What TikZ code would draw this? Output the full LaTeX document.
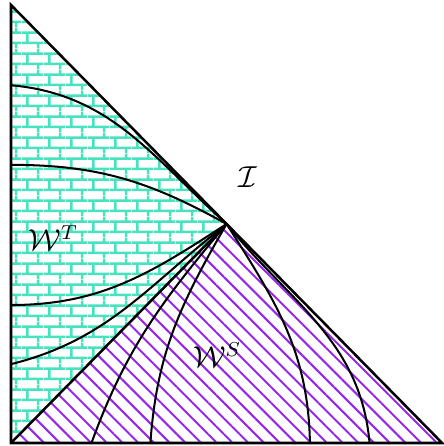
\documentclass[tikz,border=0pt]{standalone}
\usepackage{amsmath}
\usetikzlibrary{patterns.meta}

\definecolor{brickcol}{RGB}{72,226,190}
\definecolor{hatchcol}{RGB}{150,40,235}

% small bricks: rows 4.1pt high, bricks 8.6pt long
\pgfdeclarepattern{
	name=wallbricks,
	type=uncolored,
	bottom left={\pgfpoint{0pt}{0pt}},
	top right={\pgfpoint{8.6pt}{8.2pt}},
	tile size={\pgfpoint{8.6pt}{8.2pt}},
	code={
		\pgfsetlinewidth{1pt}
		\pgfpathmoveto{\pgfpoint{0pt}{2.05pt}}\pgfpathlineto{\pgfpoint{8.6pt}{2.05pt}}
		\pgfpathmoveto{\pgfpoint{0pt}{6.15pt}}\pgfpathlineto{\pgfpoint{8.6pt}{6.15pt}}
		\pgfpathmoveto{\pgfpoint{2.15pt}{2.05pt}}\pgfpathlineto{\pgfpoint{2.15pt}{6.15pt}}
		\pgfpathmoveto{\pgfpoint{6.45pt}{6.15pt}}\pgfpathlineto{\pgfpoint{6.45pt}{8.2pt}}
		\pgfpathmoveto{\pgfpoint{6.45pt}{0pt}}\pgfpathlineto{\pgfpoint{6.45pt}{2.05pt}}
		\pgfusepath{stroke}
	}
}

\begin{document}
\begin{tikzpicture}[x=1cm, y=1.016cm, edge/.style={line width=1pt}, level/.style={thick}, every node/.style={font=\large}]
	\useasboundingbox (-0.153,-0.041) rectangle (6.014,6.068);
	\coordinate (A) at (0,0);
	\coordinate (B) at (6,0);
	\coordinate (C) at (0,6);
	\coordinate (M) at (3,3);
	\fill[pattern=wallbricks, pattern color=brickcol] (A) -- (M) -- (C) -- cycle;
	\fill[pattern={Lines[angle=-45, distance=4.4pt, line width=0.8pt]}, pattern color=hatchcol] (A) -- (B) -- (M) -- cycle;
	% curves from the left side
	\foreach \n/\y/\o/\i in {1/4.9/-5/138, 2/3.81/0/151, 3/1.89/0/-147, 4/1.08/14/-142}
		{\coordinate (L\n) at (0,\y);
		\draw[level] (L\n) to[out=\o, in=\i] (M);}
	% curves from the bottom side
	\foreach \n/\x/\o/\i in {1/1.12/70/-130, 2/1.94/86/-120, 3/4.16/91/-57.5, 4/4.99/95/-51}
		{\coordinate (S\n) at (\x,0);
		\draw[level] (S\n) to[out=\o, in=\i] (M);}
	\draw[edge] (A) -- (M);
	\draw[edge] (C) -- (A) -- (B) -- cycle;
	\node (I) at (3.30,3.64) {$\mathcal{I}$};
	\node (WT) at (0.59,2.81) {$\mathcal{W}^T$};
	\node (WS) at (2.87,1.21) {$\mathcal{W}^S$};
\end{tikzpicture}
\end{document}
